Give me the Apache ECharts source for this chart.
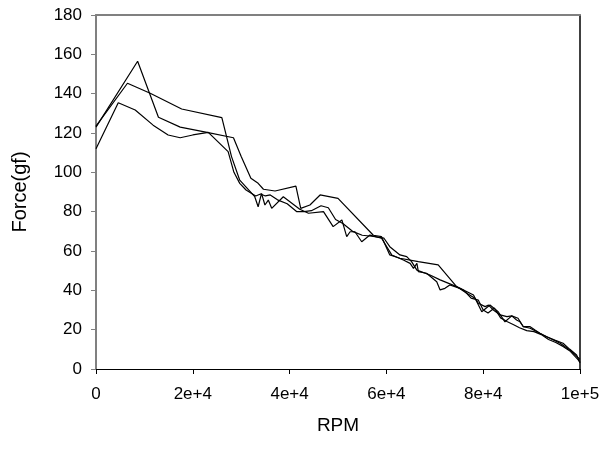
<!DOCTYPE html>
<html>
<head>
<meta charset="utf-8">
<script src="https://cdn.jsdelivr.net/npm/echarts@6/dist/echarts.min.js"></script>
<style>
html,body{margin:0;padding:0;background:#fff;}
#chart{width:612px;height:451px;}
</style>
</head>
<body>
<div id="chart"></div>
<script>
// tick labels as printed on the x axis (0 .. 1e5, step 2e4)
var xTickLabels = ['0', '2e+4', '4e+4', '6e+4', '8e+4', '1e+5'];

// three runs, [RPM, force gf]
var run1 = [[0,123],[8600,156.5],[12900,128],[17400,123],[23200,120.2],[28400,117.6],[30000,108],[32000,97],
    [33500,94.4],[34600,91.4],[37000,90.5],[41300,93],[42300,81.7],[44200,83.4],[46300,88.5],[50000,86.8],
    [57300,68],[59000,67.3],[60700,58],[62800,56.3],[66600,54.6],[70700,52.9],[74500,41.9],[78000,37.6],
    [79700,29.1],[81400,32.5],[83100,29.1],[84500,24],[85900,27],[87200,25.8],[88300,21.5],[89700,20.7],
    [92400,17.3],[95900,13.1],[97900,9.7],[100000,4.9]];

var run2 = [[0,123.5],[6500,145.3],[11200,140.2],[17700,132.2],[26000,127.8],[28000,108],[29700,96],[32800,87.6],
    [33500,82.5],[34200,89.3],[34900,83.4],[35600,85.9],[36300,81.7],[38700,87.6],[42100,81.2],[43900,79.2],
    [47000,80],[49000,72.4],[50800,75.8],[51800,67.3],[52500,69.8],[53500,69.8],[54900,64.7],[56600,68.1],
    [59000,66.5],[61100,58],[63500,55.4],[64900,53.7],[65600,51.2],[66300,53.7],[66600,49.5],[68300,48.7],
    [70400,44.4],[71100,40.2],[72100,41],[73100,42.7],[75200,41],[76000,40],[77500,36],[79000,35],[80000,30],
    [81000,28.5],[82300,31],[83600,26],[85000,24],[86300,22.5],[87500,21],[89000,19.5],[90500,19],[92000,17.5],
    [93500,15],[95000,13.5],[96500,11.5],[98000,9],[99500,5],[100000,3.5]];

var run3 = [[0,112],[4600,135.4],[8100,131.7],[11800,124],[14900,119],[17400,117.6],[20000,119],[23200,120.3],
    [27300,110.5],[28500,100],[29700,94.4],[31000,91],[33000,88],[34000,89],[35000,88],[36000,88.5],[37500,86],
    [39500,84],[41500,80],[43000,80],[44500,80.5],[46500,83],[48000,82],[49500,76],[51000,74],[53000,70],
    [55000,68],[57000,67.5],[59500,66.5],[60700,62.2],[62800,58],[64200,57.1],[65200,54.6],[66300,50.3],
    [69000,47.8],[71100,45.3],[74500,41.9],[76600,38.5],[78300,36],[79000,33.4],[80400,31.7],[81100,32.5],
    [82100,30],[83500,27.5],[84900,26.6],[85900,27],[86900,24.9],[87600,24],[88300,21.5],[89700,21.5],
    [90700,19.8],[91700,18.2],[93100,16.4],[94800,14.7],[96500,13.1],[97900,10],[99300,7.1],[100000,3]];

var font = 'Liberation Sans, Arial, sans-serif';

function runSeries(d) {
    return {
        type: 'line',
        data: d,
        showSymbol: false,
        lineStyle: { color: '#000', width: 1.2 },
        xAxisIndex: 0,
        yAxisIndex: 0
    };
}

echarts.init(document.getElementById('chart')).setOption({
    animation: false,
    grid: { left: 96, right: 32, top: 15, bottom: 82 },
    xAxis: [{
        type: 'value',
        min: 0, max: 100000, interval: 20000,
        name: 'RPM',
        nameLocation: 'middle',
        nameGap: 47,
        nameTextStyle: { fontFamily: font, fontSize: 19, color: '#000' },
        axisLine: { lineStyle: { color: '#000', width: 1 } },
        axisTick: { show: true, length: 5, lineStyle: { color: '#000' } },
        axisLabel: {
            fontFamily: font, fontSize: 17, color: '#000', margin: 17,
            formatter: function (v) { return xTickLabels[Math.round(v / 20000)]; }
        },
        splitLine: { show: false }
    }, {
        type: 'value',
        position: 'top',
        min: 0, max: 100000,
        axisLine: { show: true, onZero: false, lineStyle: { color: '#808080', width: 2 } },
        axisTick: { show: false },
        axisLabel: { show: false },
        splitLine: { show: false }
    }],
    yAxis: [{
        type: 'value',
        min: 0, max: 180, interval: 20,
        name: 'Force(gf)',
        nameLocation: 'middle',
        nameGap: 66,
        nameTextStyle: { fontFamily: font, fontSize: 20, color: '#000' },
        axisLine: { show: true, lineStyle: { color: '#808080', width: 2 } },
        axisTick: { show: true, length: 5, lineStyle: { color: '#808080' } },
        axisLabel: { fontFamily: font, fontSize: 17, color: '#000', margin: 14 },
        splitLine: { show: false }
    }, {
        type: 'value',
        position: 'right',
        min: 0, max: 180,
        axisLine: { show: true, onZero: false, lineStyle: { color: '#000', width: 1.5 } },
        axisTick: { show: false },
        axisLabel: { show: false },
        splitLine: { show: false }
    }],
    series: [runSeries(run1), runSeries(run2), runSeries(run3)]
});
</script>
</body>
</html>
